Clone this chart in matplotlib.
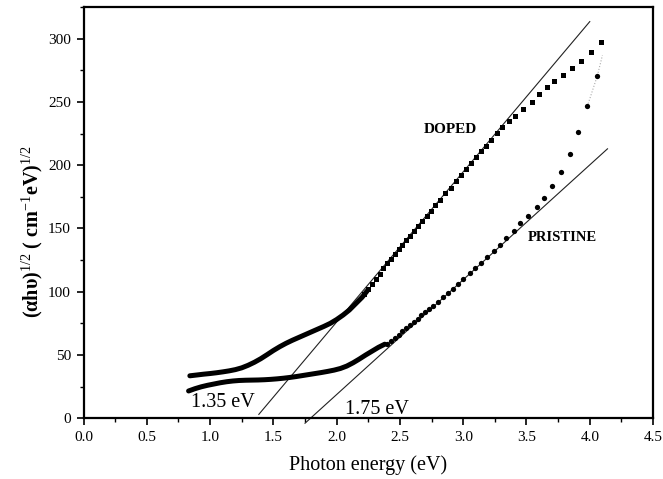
import matplotlib
matplotlib.use("Agg")
import matplotlib.pyplot as plt
from matplotlib.ticker import MultipleLocator

plt.rcParams['font.family'] = ['Liberation Serif', 'DejaVu Serif']
plt.rcParams['mathtext.fontset'] = 'custom'
plt.rcParams['mathtext.rm'] = 'Liberation Serif'
plt.rcParams['mathtext.it'] = 'Liberation Serif:italic'
plt.rcParams['mathtext.bf'] = 'Liberation Serif:bold'

# doped film: dense low-energy part (markers merge into a band)
doped_low_x = [0.84, 0.90, 0.95, 1.00, 1.05, 1.10, 1.15, 1.20, 1.25, 1.30, 1.35, 1.40,
               1.45, 1.50, 1.55, 1.60, 1.65, 1.70, 1.75, 1.80, 1.85, 1.90, 1.95, 2.00,
               2.05, 2.10, 2.15, 2.20, 2.24]
doped_low_y = [33.5, 34.2, 34.8, 35.3, 35.9, 36.6, 37.4, 38.4, 39.8, 41.8, 44.2, 47.0,
               50.2, 53.5, 56.5, 59.2, 61.6, 63.8, 66.0, 68.2, 70.4, 72.6, 75.0, 78.0,
               81.5, 85.5, 90.5, 95.5, 100.5]
# doped film: separated markers
doped_x = [2.22, 2.25, 2.28, 2.31, 2.34, 2.37, 2.40, 2.43, 2.46, 2.49, 2.52, 2.55,
           2.58, 2.61, 2.64, 2.675, 2.71, 2.745, 2.78, 2.82, 2.86, 2.90, 2.94, 2.98,
           3.02, 3.06, 3.10, 3.14, 3.18, 3.22, 3.27, 3.31, 3.36, 3.41, 3.47, 3.54,
           3.60, 3.66, 3.72, 3.79, 3.86, 3.93, 4.01, 4.09]
doped_y = [98.2, 102.2, 106.3, 110.4, 114.4, 118.5, 122.4, 126.1, 129.9, 133.6, 137.3, 140.9,
           144.4, 148.0, 151.6, 155.7, 159.9, 164.0, 168.2, 172.9, 177.7, 182.4, 187.2, 192.0,
           196.7, 201.5, 206.2, 211.0, 215.5, 220.2, 225.9, 230.5, 235.0, 239.2, 244.7, 250.2,
           256.0, 261.6, 266.3, 271.6, 276.9, 282.7, 289.2, 297.5]

# pristine film
pristine_low_x = [0.83, 0.88, 0.93, 0.98, 1.03, 1.08, 1.13, 1.18, 1.23, 1.28, 1.33, 1.38,
                  1.43, 1.48, 1.53, 1.58, 1.63, 1.68, 1.73, 1.78, 1.83, 1.88, 1.93, 1.98,
                  2.03, 2.08, 2.13, 2.18, 2.23, 2.28, 2.33, 2.38]
pristine_low_y = [21.5, 23.3, 24.8, 26.0, 27.0, 28.0, 28.8, 29.4, 29.8, 30.0, 30.1, 30.2,
                  30.4, 30.7, 31.1, 31.6, 32.2, 32.9, 33.7, 34.5, 35.3, 36.1, 37.0, 38.0,
                  39.3, 41.2, 43.8, 46.8, 50.0, 53.0, 56.0, 58.5]
pristine_x = [2.40, 2.43, 2.46, 2.49, 2.52, 2.55, 2.58, 2.61, 2.64, 2.67, 2.70, 2.73,
              2.76, 2.80, 2.84, 2.88, 2.92, 2.96, 3.00, 3.05, 3.09, 3.14, 3.19, 3.24,
              3.29, 3.34, 3.40, 3.45, 3.51, 3.58, 3.64, 3.70, 3.77, 3.84, 3.91, 3.98,
              4.06]
pristine_y = [58.5, 61.0, 63.6, 66.1, 68.6, 71.1, 73.7, 76.2, 78.7, 81.2, 83.8, 86.3,
              88.8, 92.2, 95.7, 99.1, 102.5, 106.1, 110.0, 114.8, 118.4, 122.8, 127.3, 132.0,
              137.0, 142.4, 147.9, 154.3, 160.0, 166.9, 174.5, 183.8, 194.6, 208.9, 226.0, 246.5,
              270.8]
pristine_tail_x = [3.98, 4.06, 4.10]
pristine_tail_y = [246.5, 270.8, 287.0]

# linear extrapolations (Tauc fits)
doped_fit_x = [1.385, 4.00]
doped_fit_y = [3.0, 313.6]
pristine_fit_x = [1.75, 4.14]
pristine_fit_y = [-4.0, 213.0]

fig = plt.figure(figsize=(6.63, 4.79), dpi=100)
ax = fig.add_axes([0.126, 0.127, 0.859, 0.858])

ax.plot(doped_fit_x, doped_fit_y, color='#222222', lw=0.8, clip_on=False)
ax.plot(pristine_fit_x, pristine_fit_y, color='#222222', lw=0.8, clip_on=False)

ax.plot(doped_low_x, doped_low_y, color='black', lw=3.6, solid_capstyle='round')
ax.plot(doped_x, doped_y, 's', color='black', ms=3.6, mew=0)
ax.plot(pristine_low_x, pristine_low_y, color='black', lw=3.6, solid_capstyle='round')
ax.plot(pristine_tail_x, pristine_tail_y, ':', color='#aaaaaa', lw=0.8)
ax.plot(pristine_x, pristine_y, 'o', color='black', ms=3.8, mew=0)

ax.text(2.90, 228, 'DOPED', fontsize=11, fontweight='bold', ha='center', va='center')
ax.text(3.785, 143, 'PRISTINE', fontsize=10.5, fontweight='bold', ha='center', va='center')
ax.text(1.10, 12, '1.35 eV', fontsize=14.5, ha='center', va='center')
ax.text(2.32, 7, '1.75 eV', fontsize=14.5, ha='center', va='center')

ax.set_xlim(0, 4.5)
ax.set_ylim(0, 325)
ax.xaxis.set_major_locator(MultipleLocator(0.5))
ax.xaxis.set_minor_locator(MultipleLocator(0.25))
ax.yaxis.set_major_locator(MultipleLocator(50))
ax.yaxis.set_minor_locator(MultipleLocator(25))
ax.xaxis.set_major_formatter(plt.FormatStrFormatter('%.1f'))
ax.tick_params(which='major', direction='out', length=5, width=1.2, labelsize=11, pad=4)
ax.tick_params(which='minor', direction='out', length=3, width=1.0)
for s in ax.spines.values():
    s.set_linewidth(1.6)

ax.set_xlabel('Photon energy (eV)', fontsize=14.5, labelpad=8)
ax.set_ylabel(r'(αhυ)$^{1/2}$ ( cm$^{-1}$eV)$^{1/2}$', fontsize=14.5, fontweight='bold')
ax.yaxis.set_label_coords(-0.068, 0.453)

fig.savefig('out.png', dpi=100)
